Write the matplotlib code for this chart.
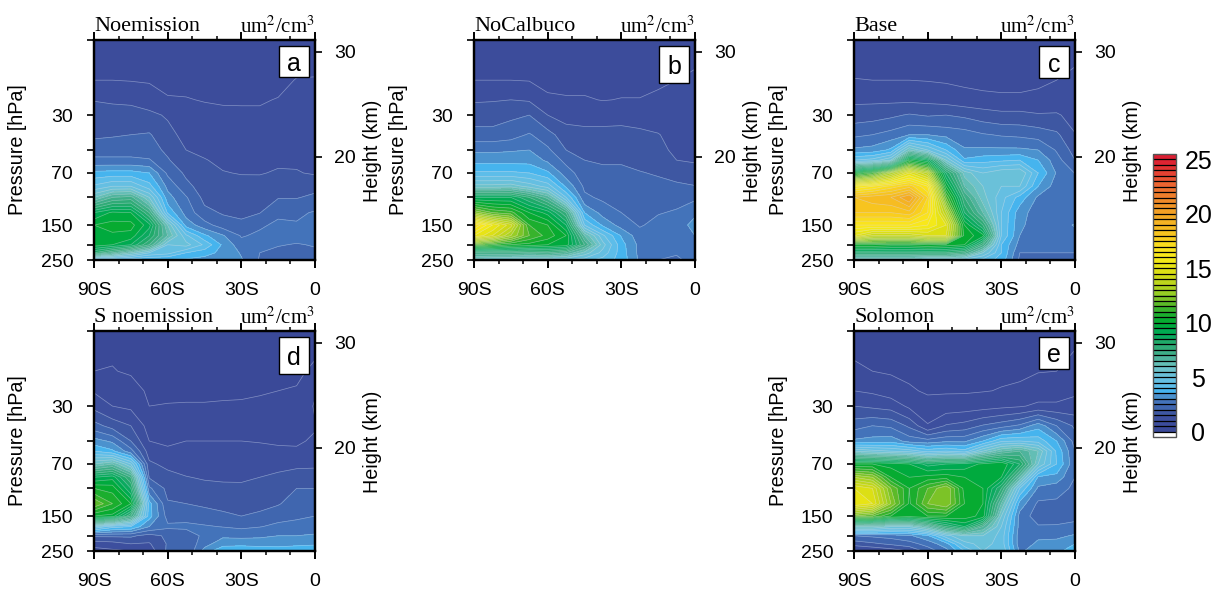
import numpy as np
import matplotlib
matplotlib.use('Agg')
import matplotlib.pyplot as plt
from matplotlib.colors import LinearSegmentedColormap, ListedColormap, BoundaryNorm
from matplotlib.patches import Rectangle
from matplotlib.ticker import NullFormatter

plt.rcParams['font.family'] = ['Liberation Sans', 'DejaVu Sans']
plt.rcParams['mathtext.fontset'] = 'stix'

latitudes = [-90, -82.5, -75, -67.5, -60, -52.5, -45, -37.5, -30, -22.5, -15, -7.5, 0]
pressures = [250, 225, 200, 175, 150, 125, 100, 85, 70, 58, 50, 40, 30, 24, 18, 10]
levels = list(np.arange(0, 25.5, 0.5))

# each inner list: one latitude, bottom (250 hPa) to top (10 hPa)
noemission = [
 [4,8,9.8,10,10,9,6,4.6,3.65,2.6,2.3,1.9,1.72,1.48,1.0,.7],
 [3.8,7,9.5,9.9,10.2,9.6,7,5,3.7,2.6,2.3,1.95,1.65,1.45,1.0,.7],
 [3.6,6,9,9.8,10.2,9.5,7.2,5,3.7,2.6,2.3,2,1.7,1.4,.98,.7],
 [3.4,5,7.5,8.5,9.2,7.5,5.5,4.2,3.5,2.55,2.2,2.05,1.6,1.3,.95,.7],
 [3.4,4.7,5,6.5,6,3.9,3.2,2.85,2.4,2.05,1.9,1.65,1.45,1.05,.85,.7],
 [3.4,4,5.2,4.6,3.3,2.8,2.55,2.15,1.9,1.65,1.5,1.35,1.15,1.02,.9,.72],
 [3.3,3.7,4.4,3.6,2.7,2.15,1.85,1.75,1.6,1.52,1.42,1.3,1.12,.98,.88,.7],
 [3.2,3.35,3.4,3.05,2.25,1.95,1.8,1.7,1.52,1.42,1.35,1.25,1.08,.96,.86,.7],
 [3.05,2.95,2.7,2.45,2.1,1.9,1.75,1.65,1.48,1.4,1.33,1.22,1.07,.96,.85,.7],
 [2.45,2.5,2.7,2.6,2.42,1.98,1.8,1.7,1.47,1.4,1.33,1.2,1.07,.96,.86,.7],
 [2.4,2.42,2.52,2.7,2.6,2.4,1.97,1.8,1.55,1.42,1.35,1.22,1.1,1.02,.88,.7],
 [2.35,2.4,2.48,2.6,2.55,2.4,1.97,1.8,1.53,1.43,1.35,1.28,1.2,1.12,1.02,.75],
 [2.4,2.45,2.52,2.7,2.9,2.55,2.1,1.85,1.45,1.38,1.33,1.27,1.2,1.13,1.03,.75],
]
nocalbuco = [
 [5.5,7.5,11.5,15.5,17,12.5,9,5.7,4.1,3.3,2.9,2.2,1.75,1.45,1.0,.7],
 [5.3,7.5,11,14.5,15.5,11.5,9,5.7,4.1,3.3,2.9,2.2,1.75,1.47,1.0,.7],
 [5.2,7.5,10.5,13,14.2,11.2,9,5.8,4.1,3.3,2.95,2.3,1.9,1.5,1.0,.7],
 [5.1,7.3,10.3,11.5,11,10,8,5.3,4,3.3,3.0,2.55,2.0,1.45,.98,.7],
 [5,7.5,10,10.8,10.5,9.3,6.8,4.8,3.6,2.9,2.6,2.2,1.5,1.1,.85,.7],
 [5,7,9.8,10,9,7.5,4.5,3.4,2.75,2.35,2.0,1.7,1.35,1.05,.85,.7],
 [4.7,5.8,7.5,6.5,4.5,3.5,2.6,2.4,2.2,2.0,1.85,1.6,1.38,1.05,.85,.7],
 [4.3,4.8,5.2,4.6,3.4,2.8,2.4,2.25,2.1,1.95,1.82,1.6,1.38,.98,.82,.7],
 [3.8,3.75,3.7,3.45,2.8,2.5,2.35,2.25,2.1,1.95,1.82,1.62,1.38,1.02,.85,.7],
 [2.9,2.85,2.85,2.7,2.45,2.4,2.3,2.2,2.03,1.85,1.75,1.58,1.35,1.02,.85,.7],
 [2.5,2.7,2.8,2.75,2.65,2.47,2.3,2.15,1.95,1.7,1.6,1.52,1.3,1.1,.92,.7],
 [2.4,2.55,2.8,2.75,2.7,2.55,2.35,2.1,1.8,1.5,1.42,1.35,1.25,1.15,1.0,.7],
 [2.7,2.6,2.85,3.0,3.2,2.9,2.4,2.02,1.7,1.45,1.4,1.33,1.27,1.2,1.1,.8],
]
base = [
 [5.5,8,10.5,15,16.5,18,18.5,16,10,4.5,3.1,2.4,1.75,1.4,1.02,.7],
 [5.5,8,10.5,14,16.5,18,18.8,16.5,11,4.7,3.2,2.5,1.8,1.4,1,.7],
 [5.5,8,10.3,14,16.5,18,19,17.2,13,5.5,3.6,2.7,1.9,1.4,1,.7],
 [5.5,8,10.3,14,16.5,18.3,20,17.8,15,10,6,3,2.05,1.4,1,.7],
 [5,8,10.5,14.5,16,17,17.5,16.5,13.5,9,5,3,1.95,1.37,.98,.7],
 [5,8,10.3,14.5,15,13.5,11.5,10,8.5,5.5,4,2.85,2,1.3,.95,.7],
 [4.8,7.5,10,10.3,10,8.5,7.5,6.5,5.8,3.6,3.05,2.75,1.9,1.2,.9,.7],
 [4.3,5.5,7.5,9.7,8,6.5,5.7,5.5,5,3.8,3.1,2.55,1.75,1.15,.85,.7],
 [3.8,4,4,4.5,4.5,4.5,4.7,5,5.4,3.9,3.1,2.45,1.65,1.1,.85,.7],
 [2.4,2.5,2.8,3.0,3.1,3.2,3.8,5,5.5,4.0,3.1,2.4,1.65,1.1,.85,.7],
 [2.4,2.5,2.55,2.7,2.75,2.75,2.9,3.5,4,3.5,3,2.3,1.55,1.12,.92,.7],
 [2.4,2.5,2.55,2.7,2.75,2.7,2.7,2.75,2.95,2.7,2.45,2.1,1.55,1.25,1.0,.7],
 [2.45,2.5,2.55,2.75,3.05,2.65,2.55,2.5,2.48,2.0,1.8,1.52,1.35,1.2,1.1,.85],
]
s_noemission = [
 [.8,1.2,2.1,5,10,12,10.5,9,6,4,3.2,2.2,1.35,.95,.5,.4],
 [.9,1.3,2.1,4.2,9.8,11,10.3,9.3,6.5,3.6,2.9,1.8,1.0,.75,.52,.4],
 [1,1.5,2.1,4,7.5,10,8.5,7.5,5,2.7,2,1.5,.9,.7,.45,.4],
 [1.2,1.45,1.8,3.0,3.7,3.7,2.6,1.95,1.6,1.25,1.0,.8,.5,.42,.4,.38],
 [2.1,2.05,2.1,2.6,2.3,2.05,1.85,1.7,1.35,1.05,.95,.8,.52,.42,.4,.38],
 [2,2.1,2.25,2.6,2.35,2,1.8,1.52,1.3,1.1,1,.85,.53,.42,.4,.38],
 [3.2,2.8,2.6,2.55,2.25,1.9,1.65,1.45,1.3,1.1,1,.85,.53,.42,.4,.38],
 [3.9,3.3,2.9,2.48,2.1,1.85,1.6,1.43,1.28,1.1,1,.85,.55,.42,.4,.38],
 [3.9,3.35,2.85,2.4,2,1.8,1.6,1.42,1.25,1.1,1,.85,.55,.44,.4,.38],
 [3.85,3.3,2.9,2.48,2.1,1.85,1.65,1.5,1.3,1.1,.98,.83,.57,.47,.4,.38],
 [3.8,3.3,3,2.6,2.35,1.95,1.75,1.6,1.35,1.07,.95,.8,.6,.5,.42,.38],
 [3.9,3.35,3,2.7,2.4,2.25,2,1.7,1.4,1.05,.95,.8,.62,.52,.45,.38],
 [4.0,3.4,3.05,2.8,2.5,2.3,2,1.75,1.4,1.15,1.05,.97,1.05,.95,.55,.4],
]
solomon = [
 [.9,1.7,2.5,6,12,15.5,15,13,10,5.5,3.1,2.3,1.5,1,.55,.4],
 [1,1.9,2.6,6,11.5,15,14.5,12.5,10,5.2,3.2,2.5,1.4,.92,.5,.4],
 [1.2,2.1,2.7,5.5,10.5,12.5,12,10.5,9.8,5,3.3,2.4,1.3,.75,.45,.4],
 [1.5,2.3,2.9,5.5,10.2,10.4,10.5,10,9.5,4.8,2.8,1.9,.9,.55,.42,.38],
 [2.2,2.7,3.4,6.5,10.5,12,11.5,10.2,8.8,4.3,2.7,1.05,.65,.45,.42,.38],
 [2.8,3.3,4.8,8,10.5,12.5,12.5,10.3,9,4.5,2.9,1.55,.72,.45,.42,.38],
 [4,4.8,5.5,9,10.3,10.5,10.3,10,9.2,4.2,2.9,1.7,.75,.45,.42,.38],
 [5,5.2,5.5,7,9.8,10,10,10,9.6,5.5,3.5,2.05,.8,.48,.42,.38],
 [5,4.8,4.8,5,5.5,6.5,8,9.5,10,6.5,4.4,2.3,.88,.52,.43,.38],
 [2.9,2.7,2.7,2.8,2.8,3.3,4.5,6.5,8.5,7,4.5,2.6,.95,.55,.45,.38],
 [3.3,3.1,2.9,2.55,2.25,2.4,2.9,3.4,5.5,6,4.3,3.3,1.1,.75,.48,.4],
 [3.4,3.15,2.9,2.55,2.3,2.4,2.7,3.3,4,3.9,3.5,2.5,1.1,.75,.5,.4],
 [3.7,3.5,3.05,2.7,2.3,2.3,2.4,2.5,2.6,2.5,2.3,1.9,1.2,.9,.65,.4],
]

titles = ['Noemission', 'NoCalbuco', 'Base', 'S noemission', 'Solomon']
letters = ['a', 'b', 'c', 'd', 'e']
series = [noemission, nocalbuco, base, s_noemission, solomon]
x_ticks = [-90, -60, -30, 0]
x_labels = ['90S', '60S', '30S', '0']
p_ticks = [30, 70, 150, 250]
p_minor = [10, 50, 100, 200]
h_ticks = [20, 30]

W, H = 1217, 592
origins = [(94, 40), (474, 40), (854, 40), (94, 331), (854, 331)]
box_h = [31, 37, 32, 37, 32]
PW, PH = 221, 220

anchors = [(0.25,(58,73,152)),(0.75,(60,76,155)),(1.25,(61,80,158)),(1.75,(62,88,163)),(2.25,(64,102,175)),
 (2.75,(67,115,186)),(3.25,(75,147,207)),(3.75,(70,182,240)),(4.25,(95,190,232)),(5,(105,192,222)),
 (6,(110,195,195)),(7,(70,175,145)),(8,(40,170,110)),(9,(0,170,90)),(10,(0,170,50)),
 (11,(35,175,45)),(12,(110,190,40)),(13,(165,210,35)),(14,(200,215,25)),(15,(225,225,20)),
 (16,(248,235,25)),(17,(250,225,30)),(18,(248,200,30)),(19,(245,185,35)),(20,(243,165,35)),
 (21,(240,145,40)),(22,(238,120,45)),(23,(235,95,50)),(24,(228,60,50)),(25,(220,30,50))]
anchor_pos = [0.0] + [v/25 for v, _ in anchors[1:]]
lsc = LinearSegmentedColormap.from_list('aer', [(p, tuple(c/255 for c in rgb)) for p, (_, rgb) in zip(anchor_pos, anchors)])
cols = [lsc((i+0.5)/50) for i in range(50)]
cols[0] = (58/255, 73/255, 152/255, 1)
cmap = ListedColormap(cols)
cmap.set_under('white')
cmap.set_over(lsc(1.0))
norm = BoundaryNorm(levels, 50)

fig = plt.figure(figsize=(W/100, H/100), dpi=100)
TICK = 14
cf = None
for k, (x0, y0) in enumerate(origins):
    ax = fig.add_axes([x0/W, 1-(y0+PH)/H, PW/W, PH/H])
    z = np.array(series[k]).T
    cf = ax.contourf(latitudes, pressures, z, levels=levels, cmap=cmap, norm=norm, extend='both')
    ax.contour(latitudes, pressures, z, levels=levels, colors=[(0.85, 0.88, 0.95, 0.45)], linewidths=0.5)
    ax.set_yscale('log')
    ax.set_ylim(250, 10)
    ax.set_xlim(-90, 0)
    ax.set_xticks(x_ticks, x_labels, fontsize=TICK)
    ax.set_xticks(list(range(-80, 0, 10)), minor=True)
    ax.set_yticks(p_ticks, [str(p) for p in p_ticks], fontsize=TICK)
    ax.set_yticks(p_minor, minor=True)
    ax.yaxis.set_minor_formatter(NullFormatter())
    ax.tick_params(axis='x', which='major', top=True, length=5.5, width=1.4, direction='out', pad=10.5)
    ax.tick_params(axis='x', which='minor', top=True, length=3, width=1.1, direction='out')
    ax.tick_params(axis='y', which='both', length=5, width=1.2, direction='out', pad=10)
    for s in ax.spines.values():
        s.set_linewidth(1.6)
    tw = ax.twinx()
    tw.set_ylim(10.19, 31.14)
    tw.set_yticks(h_ticks, [str(h) for h in h_ticks], fontsize=TICK)
    tw.tick_params(axis='y', length=5, width=1.2, direction='out', pad=9)
    for s in tw.spines.values():
        s.set_linewidth(1.6)
    ax.text(0, 1.016, titles[k], transform=ax.transAxes, family='Liberation Serif', fontsize=16, va='bottom', ha='left')
    ax.text(1.0, 1.012, r'um$^{2}$/cm$^{3}$', transform=ax.transAxes, family='Liberation Serif', fontsize=15, va='bottom', ha='right')
    bh = box_h[k]
    tw.add_patch(Rectangle((1-36/PW, 1-(6+bh)/PH), 30/PW, bh/PH, transform=ax.transAxes,
                           facecolor='white', edgecolor='black', lw=1.0, zorder=5))
    tw.text(1-21/PW, 1-(6+bh/2)/PH, letters[k], transform=ax.transAxes, fontsize=18, ha='center', va='center_baseline', zorder=6)
    fig.text((x0-76)/W, 1-(y0+110)/H, 'Pressure [hPa]', rotation=90, fontsize=14.2, ha='center', va='center')
    fig.text((x0+279)/W, 1-(y0+111)/H, 'Height (km)', rotation=90, fontsize=14.2, ha='center', va='center')

cax = fig.add_axes([1153/W, 1-437/H, 23/W, 283/H])
cb = fig.colorbar(cf, cax=cax, extend='both', extendrect=True, extendfrac=1/50, drawedges=True, spacing='uniform',
                  ticks=[0, 5, 10, 15, 20, 25])
cb.dividers.set_color('black')
cb.dividers.set_linewidth(0.9)
cb.outline.set_edgecolor('#555555')
cb.outline.set_linewidth(1.0)
cb.ax.tick_params(length=0, labelsize=18, pad=16)
cb.ax.minorticks_off()
plt.setp(cb.ax.get_yticklabels(), ha='center')

fig.savefig('out.png', dpi=100)
